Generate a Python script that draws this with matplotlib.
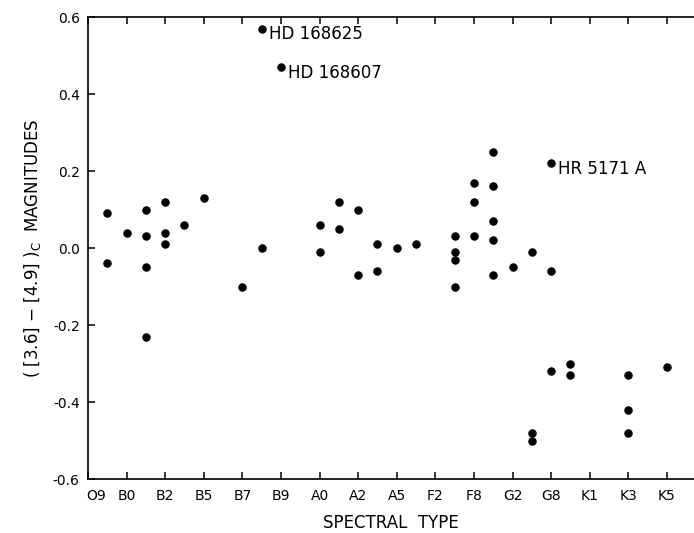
import matplotlib.pyplot as plt
from matplotlib.transforms import ScaledTranslation

plt.rcParams['font.family'] = ['DejaVu Sans']
plt.rcParams['axes.unicode_minus'] = False

# tick labels on the spectral-type axis (evenly spaced, index 0..15)
spec_labels = ["O9", "B0", "B2", "B5", "B7", "B9", "A0", "A2", "A5", "F2",
               "F8", "G2", "G8", "K1", "K3", "K5"]

# point positions in tick-index units and colour excess values
x_pos = [0.5, 0.5, 1.0, 1.5, 1.5, 1.5, 1.5, 2.0, 2.0, 2.0, 2.5, 3.0,
         4.0, 4.5, 4.5, 5.0, 6.0, 6.0, 6.5, 6.5, 7.0, 7.0, 7.5, 7.5,
         8.0, 8.5, 9.5, 9.5, 9.5, 9.5, 10.0, 10.0, 10.0,
         10.5, 10.5, 10.5, 10.5, 10.5, 11.0, 11.5, 11.5, 11.5,
         12.0, 12.0, 12.0, 12.5, 12.5, 14.0, 14.0, 14.0, 15.0]
colour = [0.09, -0.04, 0.04, 0.10, 0.03, -0.05, -0.23, 0.12, 0.04, 0.01, 0.06, 0.13,
          -0.10, 0.57, 0.00, 0.47, 0.06, -0.01, 0.12, 0.05, 0.10, -0.07, 0.01, -0.06,
          0.00, 0.01, 0.03, -0.01, -0.03, -0.10, 0.17, 0.12, 0.03,
          0.25, 0.16, 0.07, 0.02, -0.07, -0.05, -0.01, -0.48, -0.50,
          0.22, -0.06, -0.32, -0.30, -0.33, -0.33, -0.42, -0.48, -0.31]

# labelled stars
names = ["HD 168625", "HD 168607", "HR 5171 A"]
name_x = [4.5, 5.0, 12.0]
name_y = [0.57, 0.47, 0.22]

fig = plt.figure(figsize=(6.94, 5.33), dpi=100)
ax = fig.add_axes([0.1268, 0.1013, 0.8732, 0.8668])

ax.scatter(x_pos, colour, s=26, color="black", zorder=3)

for n, xx, yy in zip(names, name_x, name_y):
    ax.annotate(n, (xx, yy), xytext=(5, -4), textcoords="offset points",
                fontsize=12, va="center", ha="left")

ax.set_xlim(0, 15.7)
ax.set_ylim(-0.6, 0.6)
ax.set_xticks(range(len(spec_labels)))
ax.set_xticklabels(spec_labels, fontsize=10)
ax.set_yticks([-0.6, -0.4, -0.2, 0.0, 0.2, 0.4, 0.6])
ax.set_yticklabels(["-0.6", "-0.4", "-0.2", "0.0", "0.2", "0.4", "0.6"], fontsize=10)
ax.tick_params(axis="both", direction="in", length=5, width=1.1, top=True, pad=6)
ax.tick_params(axis="x", pad=7)
ax.spines["right"].set_visible(False)
for s in ["left", "bottom", "top"]:
    ax.spines[s].set_linewidth(1.2)

# first label (O9) sits a little right of the spine in the original
first = ax.get_xticklabels()[0]
first.set_transform(first.get_transform() + ScaledTranslation(6 / 72, 0, fig.dpi_scale_trans))

ax.set_xlabel("SPECTRAL  TYPE", fontsize=12, labelpad=8)
ax.set_ylabel(r"( [3.6] $-$ [4.9] )$_\mathrm{C}$  MAGNITUDES", fontsize=12, labelpad=7)

fig.savefig("out.png", dpi=100)
